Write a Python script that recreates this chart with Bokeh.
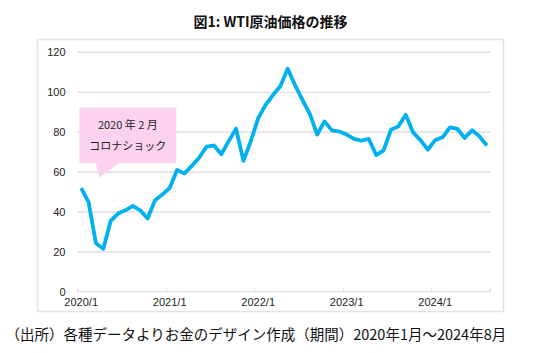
from bokeh.plotting import figure
from bokeh.models import (ColumnDataSource, FixedTicker, Range1d, Title)
from bokeh.core.properties import value
from bokeh.embed import file_html
from bokeh.resources import INLINE

# ---- data ----
months = [f"{y}/{m}" for y in range(2020, 2025) for m in range(1, 13)][:56]
prices = [51.9, 44.9, 24.3, 21.5, 35.5, 39.2, 40.8, 43.0, 40.8, 36.7, 45.8, 48.7,
          52.0, 61.0, 59.3, 63.1, 67.2, 72.7, 73.3, 68.9, 75.5, 81.7, 65.6, 75.5,
          87.0, 93.6, 98.6, 103.0, 111.8, 103.5, 96.1, 89.2, 78.8, 85.4, 80.9, 80.3,
          78.8, 76.6, 75.8, 76.6, 68.5, 70.9, 81.2, 82.9, 88.7, 79.9, 76.0, 71.3,
          76.0, 77.4, 82.4, 81.6, 77.1, 80.9, 77.9, 73.3]
y_ticks = [0, 20, 40, 60, 80, 100, 120]
title_text = "図1: WTI原油価格の推移"
source_text = "（出所）各種データよりお金のデザイン作成（期間）2020年1月～2024年8月"
callout_lines = ["2020 年 2 月", "コロナショック"]

# callout geometry (month index / price units)
callout_xs = [-0.25, 12.9, 12.9, 5.05, 2.5, 1.95, -0.25]
callout_ys = [92.4, 92.4, 64.4, 64.4, 57.3, 64.4, 64.4]

n = len(prices)
xs = list(range(n))
label_idx = [i for i, m in enumerate(months) if m.split("/")[1] == "1"]

GRID = "#d9d9d9"
JP = "Noto Sans CJK JP"
NUM = "Liberation Sans"

# frame is the outer chart box; plot area sits inside it
x0, x1 = -0.5, n - 0.5
p = figure(width=535, height=353, output_backend="svg", toolbar_location=None,
           x_range=Range1d(x0 - 40 / 7.375, x1 + 13 / 7.375),
           y_range=Range1d(-20 / 2.0208, 120 + 13 / 2.0208),
           min_border_left=37, min_border_right=32, min_border_top=37, min_border_bottom=40,
           background_fill_color="white", border_fill_color="white")
p.outline_line_color = "#e3e3e3"
p.outline_line_width = 1.5
p.title.text = ""

# axes drawn inside the box
p.yaxis.fixed_location = x0
p.yaxis.ticker = FixedTicker(ticks=y_ticks)
p.yaxis.axis_line_color = None
p.yaxis.major_tick_line_color = None
p.yaxis.major_tick_out = 0
p.yaxis.major_tick_in = 0
p.yaxis.minor_tick_line_color = None
p.yaxis.major_label_standoff = 12
p.yaxis.major_label_text_font = NUM
p.yaxis.major_label_text_font_size = "11px"
p.yaxis.major_label_text_color = "#222222"

p.xaxis.fixed_location = 0
p.xaxis.ticker = FixedTicker(ticks=label_idx,
                             minor_ticks=[i - 0.5 for i in label_idx] + [x1])
p.xaxis.major_label_overrides = {i: months[i] for i in label_idx}
p.xaxis.axis_line_color = None
p.xaxis.major_tick_line_color = None
p.xaxis.major_tick_out = 0
p.xaxis.major_tick_in = 0
p.xaxis.minor_tick_line_color = GRID
p.xaxis.minor_tick_in = 3
p.xaxis.minor_tick_out = 0
p.xaxis.major_label_standoff = 4
p.xaxis.major_label_text_font = NUM
p.xaxis.major_label_text_font_size = "11px"
p.xaxis.major_label_text_color = "#222222"

p.xgrid.grid_line_color = None
p.ygrid.grid_line_color = None

# horizontal gridlines across the plot area only
p.segment(x0=[x0] * len(y_ticks), x1=[x1] * len(y_ticks), y0=y_ticks, y1=y_ticks,
          line_color=GRID, line_width=1.2)

# callout
p.patch(callout_xs, callout_ys, fill_color="#fdd2ee", line_color=None)
cx = (callout_xs[0] + callout_xs[1]) / 2
p.text(x=[cx, cx], y=[84.0, 73.6], text=callout_lines,
       text_font=value(JP), text_font_size="11px", text_color="#222222",
       text_align="center", text_baseline="middle")

# line
src = ColumnDataSource(dict(x=xs, y=prices, m=months))
p.line("x", "y", source=src, line_color="#00b0f0", line_width=3.8, line_join="round")

# title and footer
p.add_layout(Title(text=title_text, align="center", text_font=JP, text_font_size="14px",
                   text_font_style="bold", text_color="#111111", standoff=17,
                   text_line_height=1.0, offset=-5), "above")
p.add_layout(Title(text=source_text, align="left", text_font=JP, text_font_size="14.5px",
                   text_font_style="normal", text_color="#111111", offset=-32,
                   text_line_height=1.0, standoff=19), "below")

open("out.html", "w").write(file_html(p, INLINE))
